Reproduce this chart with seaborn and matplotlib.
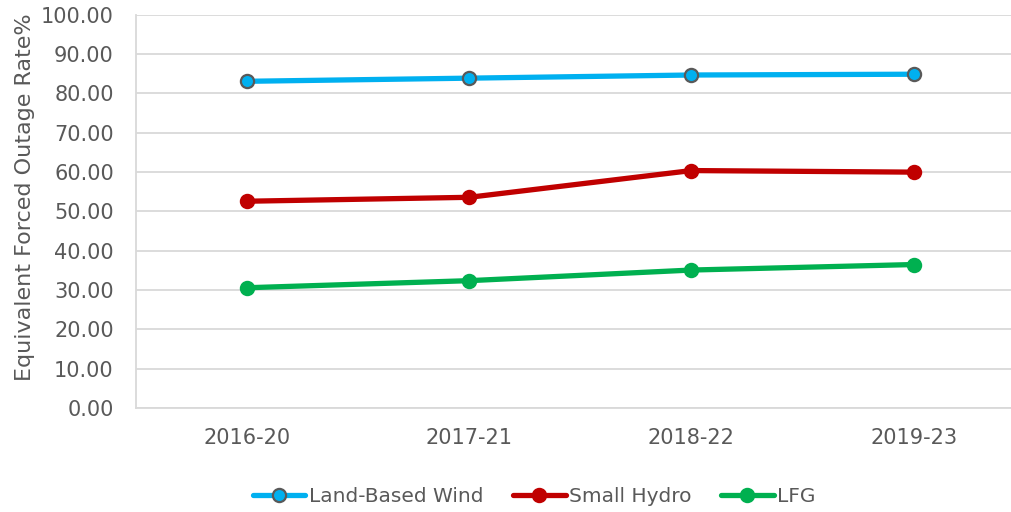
import pandas as pd
import matplotlib.pyplot as plt
import seaborn as sns

periods = ["2016-20", "2017-21", "2018-22", "2019-23"]
land_wind = [83.1, 83.9, 84.7, 84.9]
small_hydro = [52.6, 53.6, 60.4, 60.0]
lfg = [30.6, 32.4, 35.1, 36.5]

series = [
    ("Land-Based Wind", land_wind, "#00B0F0", "#595959"),
    ("Small Hydro", small_hydro, "#C00000", "#C00000"),
    ("LFG", lfg, "#00B050", "#00B050"),
]

sns.set_style("white")
plt.rcParams["font.family"] = ["DejaVu Sans"]

fig = plt.figure(figsize=(10.11, 5.12), dpi=100)
ax = fig.add_axes([0.1345, 0.203, 0.879, 0.768])

for name, vals, color, edge in series:
    df = pd.DataFrame({"period": periods, "rate": vals})
    sns.lineplot(data=df, x="period", y="rate", ax=ax, color=color, linewidth=3.8,
                 marker="o", markersize=9.5, markerfacecolor=color,
                 markeredgecolor=edge, markeredgewidth=1.6, label=name)

ax.set_xlim(-0.5, 3.5)
ax.set_ylim(0, 100)
ax.set_yticks(range(0, 101, 10))
ax.set_yticklabels([f"{v:.2f}" for v in range(0, 101, 10)])
ax.grid(axis="y", color="#D9D9D9", linewidth=1.3)
ax.set_axisbelow(True)
for s in ["top", "right"]:
    ax.spines[s].set_visible(False)
for s in ["left", "bottom"]:
    ax.spines[s].set_color("#D9D9D9")
    ax.spines[s].set_linewidth(1.3)
ax.tick_params(axis="both", length=0, labelsize=15, colors="#595959")
ax.tick_params(axis="y", pad=16)
ax.tick_params(axis="x", pad=14)
ax.set_xlabel("")
ax.set_ylabel("Equivalent Forced Outage Rate%", fontsize=16, color="#595959")
ax.yaxis.set_label_coords(-0.114, 0.537)

ax.legend(loc="center", bbox_to_anchor=(0.448, -0.226), ncol=3, frameon=False,
          fontsize=14.5, handlelength=2.6, handletextpad=0.15, columnspacing=1.5,
          labelcolor="#595959")

fig.savefig("out.png", dpi=100)
